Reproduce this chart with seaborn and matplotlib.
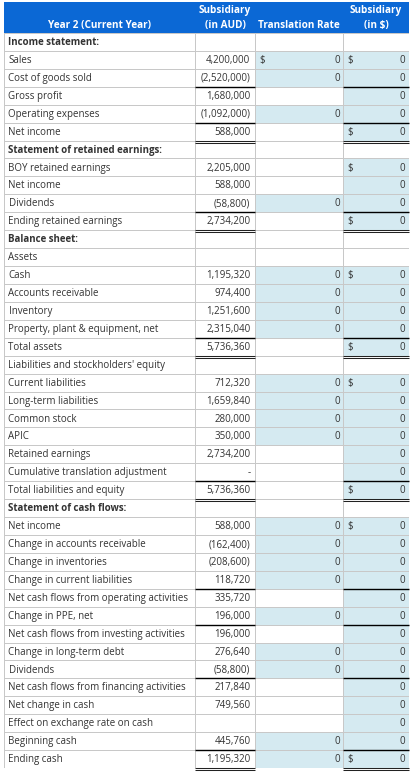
import numpy as np
import pandas as pd
import matplotlib.pyplot as plt
import seaborn as sns
from matplotlib.colors import ListedColormap
from matplotlib.patches import Rectangle

# Row labels of the worksheet
labels = [
    "Income statement:", "Sales", "Cost of goods sold", "Gross profit",
    "Operating expenses", "Net income",
    "Statement of retained earnings:", "BOY retained earnings", "Net income",
    "Dividends", "Ending retained earnings",
    "Balance sheet:", "Assets", "Cash", "Accounts receivable", "Inventory",
    "Property, plant & equipment, net", "Total assets",
    "Liabilities and stockholders' equity", "Current liabilities",
    "Long-term liabilities", "Common stock", "APIC", "Retained earnings",
    "Cumulative translation adjustment", "Total liabilities and equity",
    "Statement of cash flows:", "Net income", "Change in accounts receivable",
    "Change in inventories", "Change in current liabilities",
    "Net cash flows from operating activities", "Change in PPE, net",
    "Net cash flows from investing activities", "Change in long-term debt",
    "Dividends", "Net cash flows from financing activities",
    "Net change in cash", "Effect on exchange rate on cash",
    "Beginning cash", "Ending cash",
]

# Subsidiary (in AUD)
aud = [
    None, 4200000, -2520000, 1680000, -1092000, 588000,
    None, 2205000, 588000, -58800, 2734200,
    None, None, 1195320, 974400, 1251600, 2315040, 5736360,
    None, 712320, 1659840, 280000, 350000, 2734200, 0, 5736360,
    None, 588000, -162400, -208600, 118720, 335720, 196000, 196000,
    276640, -58800, 217840, 749560, None, 445760, 1195320,
]

# Translation rate (input cells, all 0)
rate = [
    None, 0, 0, None, 0, None,
    None, None, None, 0, None,
    None, None, 0, 0, 0, 0, None,
    None, 0, 0, 0, 0, None, None, None,
    None, 0, 0, 0, 0, None, 0, None,
    0, 0, None, None, None, 0, 0,
]

# Subsidiary (in $)
usd = [
    None, 0, 0, 0, 0, 0,
    None, 0, 0, 0, 0,
    None, None, 0, 0, 0, 0, 0,
    None, 0, 0, 0, 0, 0, 0, 0,
    None, 0, 0, 0, 0, 0, 0, 0,
    0, 0, 0, 0, 0, 0, 0,
]

bold_rows = [0, 6, 11, 26]
rate_dollar_rows = [1]
usd_dollar_rows = [1, 5, 7, 10, 13, 17, 19, 25, 27, 40]
top_line_rows = [3, 5, 10, 17, 25, 31, 33, 36, 40]
double_line_rows = [5, 10, 17, 25, 40]


def fmt(v):
    if v is None:
        return ""
    if v == 0:
        return "-"
    if v < 0:
        return "({:,})".format(-v)
    return "{:,}".format(v)


sns.set_theme(style="white")
plt.rcParams['font.family'] = ['Open Sans', 'DejaVu Sans']

W, H = 416, 775
fig = plt.figure(figsize=(W / 100, H / 100), dpi=100)

cols = [(4, 195), (195, 255), (255, 343), (343, 409)]
top, bottom = 33, 768
n = len(labels)
rh = (bottom - top) / n

shade = pd.DataFrame({
    "label": np.zeros(n),
    "aud": np.zeros(n),
    "rate": [0 if v is None else 1 for v in rate],
    "usd": [0 if v is None else 1 for v in usd],
})
cmap = ListedColormap(["white", "#d5eaf1"])

for (x0, x1), c in zip(cols, shade.columns):
    ax = fig.add_axes([x0 / W, 1 - bottom / H, (x1 - x0) / W, (bottom - top) / H])
    sns.heatmap(shade[[c]], ax=ax, cmap=cmap, vmin=0, vmax=1, cbar=False,
                linewidths=0.6, linecolor="#c8c8c8",
                xticklabels=False, yticklabels=False)
    ax.set_xlabel("")
    ax.set_ylabel("")
    for sp in ax.spines.values():
        sp.set_visible(False)

# overlay in pixel coordinates
ov = fig.add_axes([0, 0, 1, 1])
ov.set_xlim(0, W)
ov.set_ylim(H, 0)
ov.axis("off")
ov.patch.set_alpha(0)

ov.add_patch(Rectangle((4, 2), 405, 31, color="#0b68d5", lw=0))
hdr = dict(color="white", fontweight="bold", fontsize=7.2, ha="center", va="center")
ov.text(99.5, 25.5, "Year 2 (Current Year)", **hdr)
ov.text(225, 11, "Subsidiary", **hdr)
ov.text(225, 25.5, "(in AUD)", **hdr)
ov.text(299, 25.5, "Translation Rate", **hdr)
ov.text(376, 11, "Subsidiary", **hdr)
ov.text(376, 25.5, "(in $)", **hdr)

txt = dict(fontsize=7.05, color="#333333", va="center")
for i, lab in enumerate(labels):
    y = top + (i + 0.5) * rh + 0.6
    ov.text(8.5, y, lab, fontweight="bold" if i in bold_rows else "normal", **txt)
    ov.text(250.5, y, fmt(aud[i]), ha="right", **txt)
    if rate[i] is not None:
        ov.text(340, y, str(rate[i]), ha="right", **txt)
    if usd[i] is not None:
        ov.text(405.5, y, str(usd[i]), ha="right", **txt)
    if i in rate_dollar_rows:
        ov.text(259, y, "$", ha="left", **txt)
    if i in usd_dollar_rows:
        ov.text(347.5, y, "$", ha="left", **txt)

for i in top_line_rows:
    y = top + i * rh
    for x0, x1 in (cols[1], cols[3]):
        ov.plot([x0, x1], [y, y], color="black", lw=1.0, solid_capstyle="butt")
for i in double_line_rows:
    y = top + (i + 1) * rh
    for x0, x1 in (cols[1], cols[3]):
        ov.plot([x0, x1], [y, y], color="#222222", lw=0.75, solid_capstyle="butt")
        ov.plot([x0, x1], [y + 2, y + 2], color="#222222", lw=0.75, solid_capstyle="butt")

fig.savefig("out.png", dpi=100)
